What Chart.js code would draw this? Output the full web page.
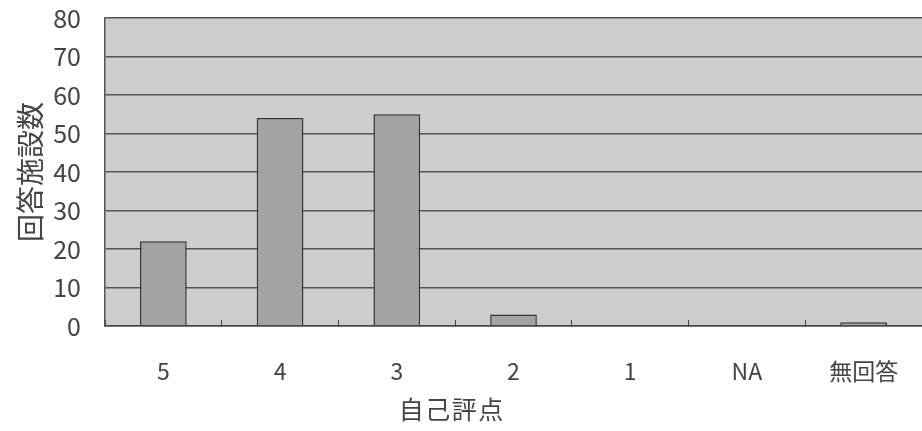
<!DOCTYPE html>
<html>
<head>
<meta charset="utf-8">
<script src="https://cdn.jsdelivr.net/npm/chart.js@4/dist/chart.umd.min.js"></script>
<style>
  html, body { margin: 0; padding: 0; background: #fff; }
  #wrap { width: 922px; height: 431px; }
</style>
</head>
<body>
<div id="wrap"><canvas id="scoreChart"></canvas></div>
<script>
// chart data
const categories = ['5', '4', '3', '2', '1', 'NA', '無回答'];
const facilityCounts = [22, 54, 55, 3, 0, 0, 1];
const yTicks = [0, 10, 20, 30, 40, 50, 60, 70, 80];

const FONT = "'Noto Sans CJK JP', 'Noto Sans', sans-serif";

// grey plot background
const plotBackground = {
    id: 'plotBackground',
    beforeDraw(chart) {
        const { ctx, chartArea } = chart;
        ctx.save();
        ctx.fillStyle = '#cdcdcd';
        ctx.fillRect(chartArea.left, chartArea.top, chartArea.right - chartArea.left, chartArea.bottom - chartArea.top);
        ctx.restore();
    }
};

const ctx = document.getElementById('scoreChart');

new Chart(ctx.getContext('2d'), {
    type: 'bar',
    data: {
        labels: categories,
        datasets: [{
            label: '回答施設数',
            data: facilityCounts,
            backgroundColor: '#a3a3a3',
            borderColor: '#333333',
            borderWidth: 1.5,
            categoryPercentage: 1.0,
            barPercentage: 0.4
        }]
    },
    options: {
        responsive: true,
        maintainAspectRatio: false,
        animation: false,
        layout: { padding: { top: 0, right: 0, left: 16, bottom: 9 } },
        plugins: {
            legend: { display: false },
            tooltip: { enabled: false }
        },
        scales: {
            x: {
                offset: true,
                afterFit(scale) {
                    scale.paddingLeft = 0;
                    scale.paddingRight = 0;
                    scale.height = 96;
                },
                grid: {
                    offset: true,
                    drawOnChartArea: false,
                    drawTicks: true,
                    tickLength: -6,
                    color: '#444'
                },
                border: { color: '#444', width: 1.5 },
                ticks: {
                    color: '#444',
                    padding: 40,
                    font: { family: FONT, size: 23, lineHeight: 1 }
                },
                title: {
                    display: true,
                    // trailing ideographic spaces nudge the title left of the plot centre
                    text: '自\u200a己\u200a評\u200a点　　　　　',
                    color: '#444',
                    padding: { top: 0, bottom: 0 },
                    font: { family: FONT, size: 25, lineHeight: 1 }
                }
            },
            y: {
                min: 0,
                max: 80,
                afterBuildTicks(scale) {
                    scale.ticks = yTicks.map(v => ({ value: v }));
                },
                afterFit(scale) {
                    scale.paddingTop = 18;
                    scale.paddingBottom = 0;
                    scale.width = 89;
                },
                grid: {
                    color: '#555',
                    lineWidth: 1.5,
                    drawTicks: false
                },
                border: { color: '#555', width: 1.5 },
                ticks: {
                    color: '#444',
                    padding: 24,
                    font: { family: FONT, size: 25 }
                },
                title: {
                    display: true,
                    text: '回答施設数',
                    color: '#444',
                    padding: { top: 0, bottom: 11 },
                    font: { family: FONT, size: 28, lineHeight: 1 }
                }
            }
        }
    },
    plugins: [plotBackground]
});
</script>
</body>
</html>
